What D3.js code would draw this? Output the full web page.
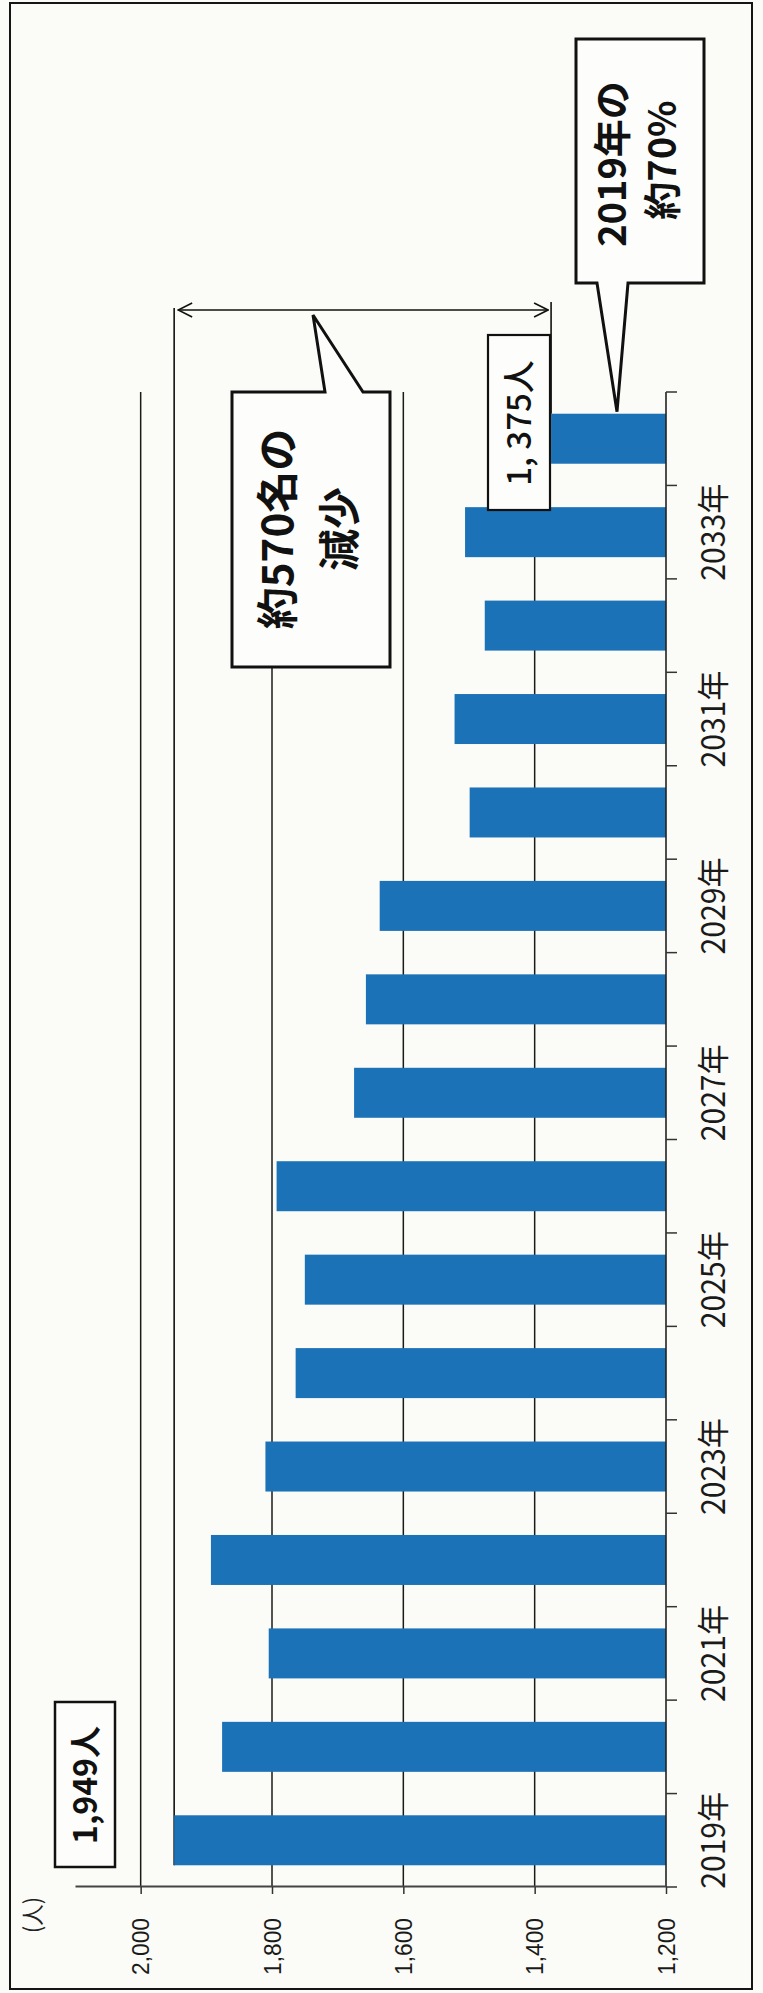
<!DOCTYPE html>
<html>
<head>
<meta charset="utf-8">
<script src="https://cdn.jsdelivr.net/npm/d3@7"></script>
<style>
  body { margin: 0; background: #fff; }
</style>
</head>
<body>
<div id="chart"></div>
<script>
// data
var years = ["2019年", "2020年", "2021年", "2022年", "2023年", "2024年", "2025年", "2026年",
             "2027年", "2028年", "2029年", "2030年", "2031年", "2032年", "2033年", "2034年"];
var counts = [1949, 1876, 1805, 1893, 1810, 1764, 1750, 1793,
              1675, 1657, 1636, 1499, 1522, 1476, 1506, 1375];
var yearTicks = ["2019年", "2021年", "2023年", "2025年", "2027年", "2029年", "2031年", "2033年"];
var valueTicks = [1200, 1400, 1600, 1800, 2000];
var unitLabel = "(人)";
var firstLabel = "1,949人", lastLabel = "1, 375人";
var dropText = ["約570名の", "減少"];
var ratioText = ["2019年の", "約70%"];

var width = 763,
    height = 1993;

var svg = d3.select("#chart").append("svg")
    .attr("width", width)
    .attr("height", height);

// BACKGROUND + frame
svg.append("rect")
    .attr("width", width).attr("height", height)
    .attr("fill", "#fbfbf7");
svg.append("rect")
    .attr("x", 10).attr("y", 3)
    .attr("width", 742).attr("height", 1986)
    .attr("fill", "none")
    .attr("stroke", "#151515")
    .attr("stroke-width", 2);

var defs = svg.append("defs");
defs.append("marker")
    .attr("id", "chev")
    .attr("viewBox", "0 -8 16 16")
    .attr("markerUnits", "userSpaceOnUse")
    .attr("markerWidth", 16).attr("markerHeight", 16)
    .attr("refX", 15).attr("refY", 0)
    .attr("orient", "auto-start-reverse")
    .append("path")
    .attr("d", "M1,-7L15,0L1,7")
    .attr("fill", "none")
    .attr("stroke", "#111")
    .attr("stroke-width", 1.6);

// the whole chart is drawn upright and turned a quarter turn, like the scan
var g = svg.append("g")
    .attr("transform", "translate(0," + height + ") rotate(-90)");

var x = d3.scaleBand()
    .domain(years)
    .range([106, 1601])
    .paddingInner(0.465)
    .paddingOuter(0.2325);

var y = d3.scaleLinear()
    .domain([1200, 2100])
    .range([666, 75]);

// GRID
g.append("g").attr("class", "grid")
    .selectAll("line")
    .data(valueTicks.filter(function(d) { return d > 1200; }))
    .enter().append("line")
    .attr("x1", 106).attr("x2", 1601)
    .attr("y1", function(d) { return y(d); })
    .attr("y2", function(d) { return y(d); })
    .attr("stroke", "#1a1a1a")
    .attr("stroke-width", 1.5);

// extension lines for the dimension arrow
var arrowU = 1683;
g.append("line")
    .attr("x1", x(years[0])).attr("x2", arrowU + 2)
    .attr("y1", y(counts[0])).attr("y2", y(counts[0]))
    .attr("stroke", "#111").attr("stroke-width", 1.6);
var last = years.length - 1;
g.append("line")
    .attr("x1", x(years[last]) + x.bandwidth()).attr("x2", arrowU + 8)
    .attr("y1", y(counts[last])).attr("y2", y(counts[last]))
    .attr("stroke", "#111").attr("stroke-width", 1.6);

// BARS
g.append("g").attr("class", "bars")
    .selectAll("rect")
    .data(years)
    .enter().append("rect")
    .attr("x", function(d) { return x(d); })
    .attr("y", function(d, i) { return y(counts[i]); })
    .attr("width", x.bandwidth())
    .attr("height", function(d, i) { return y(1200) - y(counts[i]); })
    .attr("fill", "#1c72b6");

// category axis (ticks between the bars)
var base = y(1200);
g.append("line")
    .attr("x1", 106).attr("x2", 1601)
    .attr("y1", base).attr("y2", base)
    .attr("stroke", "#222").attr("stroke-width", 1.6);
var bounds = years.map(function(d) { return x(d) - x.step() * x.paddingInner() / 2; });
bounds.push(x.range()[1]);
g.append("g").selectAll("line")
    .data(bounds)
    .enter().append("line")
    .attr("x1", function(d) { return d; })
    .attr("x2", function(d) { return d; })
    .attr("y1", base).attr("y2", base + 11)
    .attr("stroke", "#333").attr("stroke-width", 1.5);

var xAxis = g.append("g")
    .attr("transform", "translate(0," + base + ")")
    .call(d3.axisBottom(x).tickValues(yearTicks).tickSize(0));
xAxis.select(".domain").remove();
xAxis.selectAll("text")
    .attr("y", 48)
    .attr("dy", "0.35em")
    .attr("fill", "#1a1a1a")
    .attr("textLength", 97)
    .attr("lengthAdjust", "spacingAndGlyphs")
    .style("font-family", "'Noto Sans CJK JP', sans-serif")
    .style("font-size", "32px");

// value axis
var yAxis = g.append("g")
    .attr("transform", "translate(106,0)")
    .call(d3.axisLeft(y)
        .tickValues(valueTicks)
        .tickFormat(d3.format(","))
        .tickSize(7)
        .tickSizeOuter(0)
        .tickPadding(24));
yAxis.select(".domain")
    .attr("stroke", "#444").attr("stroke-width", 2);
yAxis.selectAll(".tick line").attr("stroke", "#333").attr("stroke-width", 1.5);
yAxis.selectAll("text")
    .attr("x", -31)
    .attr("dy", "0.35em")
    .attr("fill", "#1a1a1a")
    .attr("textLength", 57)
    .attr("lengthAdjust", "spacingAndGlyphs")
    .style("font-family", "'Liberation Sans', Arial, sans-serif")
    .style("font-size", "23px");

g.append("text")
    .attr("x", 78).attr("y", 33)
    .attr("dy", "0.35em")
    .attr("text-anchor", "middle")
    .attr("textLength", 36)
    .attr("lengthAdjust", "spacingAndGlyphs")
    .style("font-family", "'Noto Sans CJK JP', sans-serif")
    .style("font-size", "23px")
    .attr("fill", "#222")
    .text(unitLabel);

// dimension arrow 1,949 -> 1,375
g.append("line")
    .attr("x1", arrowU).attr("x2", arrowU)
    .attr("y1", y(counts[0]) + 4).attr("y2", y(counts[last]) - 3)
    .attr("stroke", "#111").attr("stroke-width", 1.6)
    .attr("marker-start", "url(#chev)")
    .attr("marker-end", "url(#chev)");

// CALLOUTS
var boldFont = "'Noto Sans CJK JP', sans-serif";

g.append("path")
    .attr("d", "M1326,232L1601,232L1601,325L" + (arrowU - 5) + ",313L1601,363L1601,390L1326,390Z")
    .attr("fill", "#fdfdfb").attr("stroke", "#111").attr("stroke-width", 3)
    .attr("stroke-linejoin", "miter");
g.selectAll(".drop")
    .data(dropText)
    .enter().append("text")
    .attr("class", "drop")
    .attr("x", 1464)
    .attr("y", function(d, i) { return 278 + i * 62; })
    .attr("dy", "0.36em")
    .attr("text-anchor", "middle")
    .attr("font-family", boldFont)
    .attr("font-weight", 700)
    .attr("font-size", 42)
    .attr("fill", "#111")
    .text(function(d) { return d; });

var tipU = x(years[last]) + x.bandwidth() + 2;
g.append("path")
    .attr("d", "M1710,576L1954,576L1954,704L1710,704L1710,628L" + tipU + ",617L1710,597Z")
    .attr("fill", "#fdfdfb").attr("stroke", "#111").attr("stroke-width", 3);
g.selectAll(".ratio")
    .data(ratioText)
    .enter().append("text")
    .attr("class", "ratio")
    .attr("x", function(d, i) { return 1829 + i * 4; })
    .attr("y", function(d, i) { return 612 + i * 50; })
    .attr("dy", "0.36em")
    .attr("text-anchor", "middle")
    .attr("font-family", boldFont)
    .attr("font-weight", 700)
    .attr("font-size", 38)
    .attr("fill", "#111")
    .text(function(d) { return d; });

// value boxes
g.append("rect")
    .attr("x", 126).attr("y", 55)
    .attr("width", 165).attr("height", 60)
    .attr("fill", "#fdfdfb").attr("stroke", "#111").attr("stroke-width", 2.5);
g.append("text")
    .attr("x", 208).attr("y", 85)
    .attr("dy", "0.36em")
    .attr("text-anchor", "middle")
    .attr("font-family", boldFont)
    .attr("font-weight", 700)
    .attr("font-size", 32)
    .attr("fill", "#111")
    .text(firstLabel);

g.append("rect")
    .attr("x", 1483).attr("y", 488)
    .attr("width", 175).attr("height", 62)
    .attr("fill", "#fdfdfb").attr("stroke", "#111").attr("stroke-width", 2.2);
g.append("text")
    .attr("x", 1570).attr("y", 519)
    .attr("dy", "0.36em")
    .attr("text-anchor", "middle")
    .attr("font-family", boldFont)
    .attr("font-weight", 500)
    .attr("font-size", 33)
    .attr("fill", "#111")
    .text(lastLabel);
</script>
</body>
</html>
